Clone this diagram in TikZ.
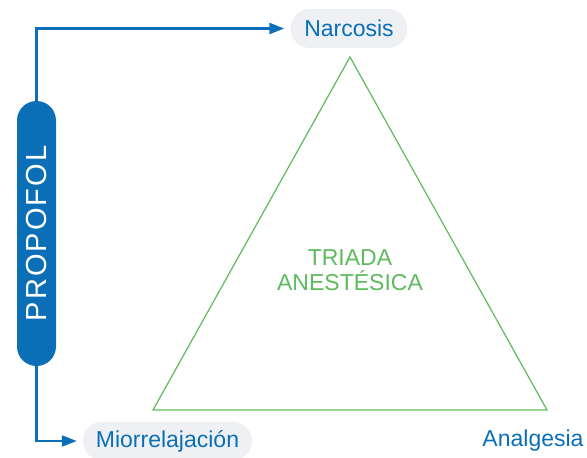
\documentclass[tikz,border=0pt]{standalone}
\usepackage{fontspec}
\setmainfont{Liberation Sans}
\usetikzlibrary{arrows.meta}
\definecolor{pblue}{HTML}{0B6FB8}
\definecolor{pgray}{HTML}{EEF0F3}
\definecolor{pgreen}{HTML}{5DBB5D}
\tikzset{
  pill/.style={fill=pgray, rounded corners=19.5pt, minimum height=39pt, inner sep=0pt,
    text=pblue, font=\fontsize{23}{27}\selectfont},
  plain/.style={inner sep=0pt, text=pblue, font=\fontsize{23}{27}\selectfont},
  arr/.style={draw=pblue, line width=2.2pt, -{Triangle[length=15pt,width=11pt]}, shorten >=6pt},
  tri/.style={draw=pgreen, line width=1.2pt, line join=miter},
}
\begin{document}
\begin{tikzpicture}[x=1pt,y=-1pt]
\useasboundingbox (0,0) rectangle (587,458);
\node[pill, minimum width=117pt] (narc) at (349,28.5) {Narcosis};
\node[pill, minimum width=169pt] (mio) at (167.5,441) {Miorrelajación};
\node[plain] (anal) at (533,441) {Analgesia};
\coordinate (apex) at (350,57);
\coordinate (bl) at (153,410);
\coordinate (br) at (547,410);
\draw[tri] (apex) -- (bl) -- (br) -- cycle;
\node[align=center, text=pgreen, font=\fontsize{23}{25}\selectfont, inner sep=0pt] (triada) at (350,270.5) {TRIADA\\ANESTÉSICA};
\node[rotate=90, fill=pblue, rounded corners=19.5pt, minimum width=265pt, minimum height=39pt, inner sep=0pt,
  text=white, font=\fontsize{29}{30}\selectfont\addfontfeature{LetterSpace=7}] (prop) at (36.5,233.5) {PROPOFOL};
\draw[arr] (prop.east) |- (narc.west);
\draw[arr] (prop.west) |- (mio.west);
\end{tikzpicture}
\end{document}
